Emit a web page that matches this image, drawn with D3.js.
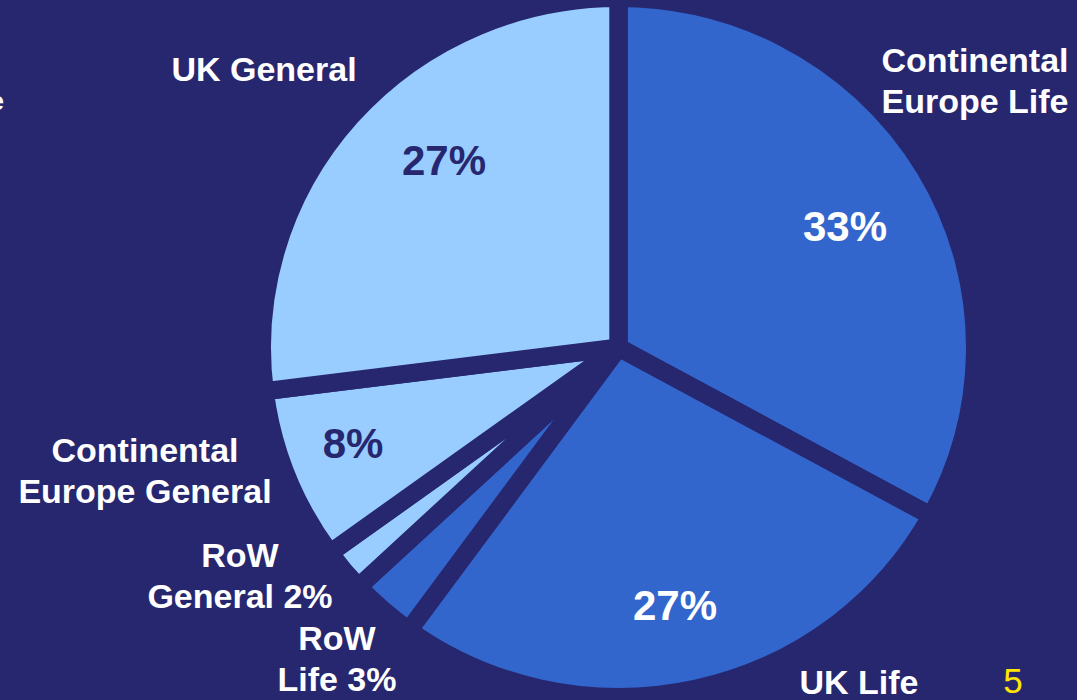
<!DOCTYPE html>
<html>
<head>
<meta charset="utf-8">
<script src="https://cdn.jsdelivr.net/npm/d3@7"></script>
<style>
  html, body { margin: 0; padding: 0; background: #272770; }
  svg { display: block; }
</style>
</head>
<body>
<svg id="chart" width="1077" height="700"></svg>
<script>
// Business mix by segment, clockwise from twelve o'clock
const categories = ["Continental Europe Life", "UK Life", "RoW Life", "RoW General", "Continental Europe General", "UK General"];
const shares = [33, 27, 3, 2, 8, 27];
const segmentType = ["Life", "Life", "Life", "General", "General", "General"];
const labelLines = [["Continental", "Europe Life"], ["UK Life"], ["RoW", "Life"], ["RoW", "General"], ["Continental", "Europe General"], ["UK General"]];
const shareInside = [true, true, false, false, true, true];
const pageNumber = "5";

// Layout
const W = 1077, H = 700;
const BG = "#272770";
const cx = 618.5, cy = 347.5;
const R = 349.5;              // outer radius incl. half the separator stroke
const xStretch = 347.5 / 340.5;
const gap = 18;
const FONT = "'Liberation Sans', Arial, Helvetica, sans-serif";
const colour = d3.scaleOrdinal().domain(["Life", "General"]).range(["#3366CC", "#99CCFF"]);
const shareTextColour = d3.scaleOrdinal().domain(["Life", "General"]).range(["#FFFFFF", "#272770"]);
// in-slice share anchors: [centre x, baseline]
const shareAnchor = [[845, 241], [675, 620], null, null, [353, 458], [444, 175]];
// outer label anchors: [centre x, first baseline]
const labelAnchor = [[975, 72], [859, 694], [337, 650], [240, 567], [145, 462], [264, 81]];
const lineStep = 41;

const rows = categories.map((c, i) => ({ name: c, value: shares[i], type: segmentType[i], i }));

const svg = d3.select("#chart");
svg.append("rect").attr("width", W).attr("height", H).attr("fill", BG);

const pie = d3.pie().sort(null).value(d => d.value);
const arcs = pie(rows);
const arc = d3.arc().innerRadius(0).outerRadius(R);

const g = svg.append("g").attr("transform", `translate(${cx},${cy}) scale(${xStretch},1)`);
g.selectAll("path.slice")
  .data(arcs)
  .join("path")
  .attr("class", "slice")
  .attr("d", arc)
  .attr("fill", d => colour(d.data.type))
  .attr("stroke", BG)
  .attr("stroke-width", gap)
  .attr("stroke-linejoin", "miter");

// Shares printed inside the larger slices
const inner = arcs.filter(d => shareInside[d.data.i]);
svg.selectAll("text.share")
  .data(inner)
  .join("text")
  .attr("class", "share")
  .attr("x", d => shareAnchor[d.data.i][0])
  .attr("y", d => shareAnchor[d.data.i][1])
  .attr("text-anchor", "middle")
  .attr("font-family", FONT)
  .attr("font-weight", "bold")
  .attr("font-size", 42)
  .attr("fill", d => shareTextColour(d.data.type))
  .text(d => d.data.value + "%");

// Category labels around the pie
rows.forEach(d => {
  const lines = labelLines[d.i].slice();
  if (!shareInside[d.i]) lines[lines.length - 1] += " " + d.value + "%";
  const [ax, ay] = labelAnchor[d.i];
  const t = svg.append("text")
    .attr("text-anchor", "middle")
    .attr("font-family", FONT)
    .attr("font-weight", "bold")
    .attr("font-size", 34)
    .attr("fill", "#FFFFFF");
  lines.forEach((ln, k) => {
    t.append("tspan").attr("x", ax).attr("y", ay + k * lineStep).text(ln);
  });
});

// Edge of a neighbouring caption running off the slide
svg.append("text")
  .attr("x", 4).attr("y", 110)
  .attr("text-anchor", "end")
  .attr("font-family", FONT)
  .attr("font-weight", "bold")
  .attr("font-size", 26)
  .attr("fill", "#FFFFFF")
  .text("Life");

// Slide number
svg.append("text")
  .attr("x", 1013).attr("y", 693)
  .attr("text-anchor", "middle")
  .attr("font-family", FONT)
  .attr("font-size", 35)
  .attr("fill", "#FFE600")
  .text(pageNumber);
</script>
</body>
</html>
